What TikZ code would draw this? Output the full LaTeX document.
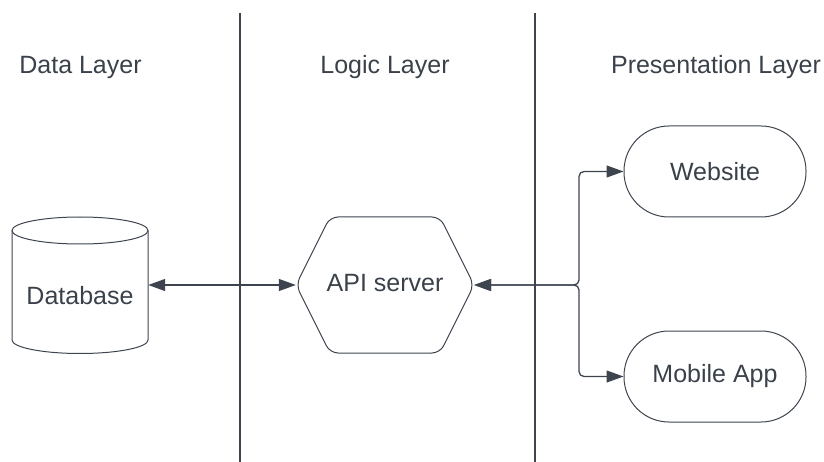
\documentclass[tikz,border=0pt]{standalone}
\usepackage{fontspec}
\setmainfont{Liberation Sans}
\usepackage{tikz}
\usetikzlibrary{arrows.meta, positioning, calc}
\definecolor{lcdark}{RGB}{58,65,74}
\definecolor{lcline}{RGB}{62,68,78}

\begin{document}
\begin{tikzpicture}[x=1pt, y=-1pt,
  every node/.style={text=lcdark, font=\fontsize{25}{29}\selectfont},
  conn/.style={lcline, line width=1.3pt, {Triangle[length=17pt,width=12pt]}-{Triangle[length=17pt,width=12pt]}},
  lane/.style={lcline, line width=1.3pt},
  shapebox/.style={minimum width=178pt, minimum height=136pt, inner sep=0pt},
  appbox/.style={draw=lcline, line width=1pt, rounded corners=45pt, minimum width=182pt, minimum height=91pt}]
% outer
\useasboundingbox (0,0) rectangle (824,462);

% lanes
\draw[lane] (240,13) -- (240,462);
\draw[lane] (535,13) -- (535,462);
\node (datatitle)  at (80.5,67) {Data Layer};
\node (logictitle) at (385,67)  {Logic Layer};
\node (prestitle)  at (716,67)  {Presentation Layer};

% database cylinder
\node[minimum width=136pt, minimum height=136pt, inner sep=0pt] (db) at (80,285) {};
\draw[lcline, line width=1pt] (80,230.5) ellipse [x radius=68, y radius=13.5];
\draw[lcline, line width=1pt] (12,230.5) -- (12,340)
  arc[start angle=180, end angle=0, x radius=68, y radius=13.5] -- (148,230.5);
\node (dblabel) at (80,296) {Database};

% api server hexagon
\node[shapebox] (api) at (385,285) {};
\draw[lcline, line width=1pt, rounded corners=8pt]
  (296,285) -- (330,217) -- (440,217) -- (474,285) -- (440,353) -- (330,353) -- cycle;
\node (apilabel) at (385,283) {API server};

% clients
\node[appbox] (web) at (715,171.5) {Website};
\node[appbox] (mobile) at (715,376.5) {Mobile App};

% connectors
\coordinate (split) at (579,285);
\draw[conn] (db.east) -- (api.west);
\draw[conn, rounded corners=5pt] (api.east) -- (split) |- (web.west);
\draw[conn, rounded corners=5pt] (api.east) -- (split) |- (mobile.west);
\end{tikzpicture}
\end{document}
